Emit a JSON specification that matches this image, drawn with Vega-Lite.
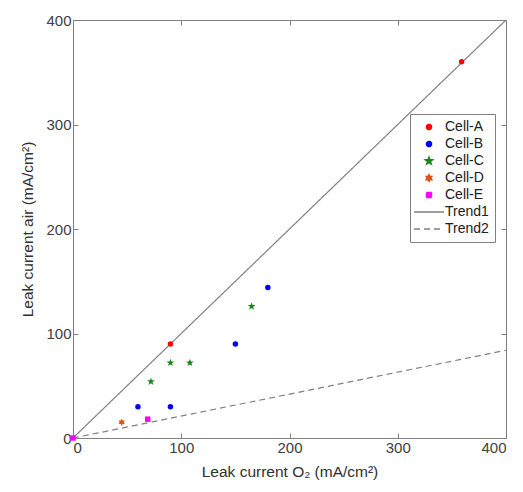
{
  "$schema": "https://vega.github.io/schema/vega-lite/v6.json",
  "autosize": {"type": "none"},
  "padding": {"left": 73, "top": 20, "right": 17, "bottom": 54},
  "width": 433,
  "height": 418,
  "config": {
    "font": "Liberation Sans",
    "view": {"stroke": "#808080", "strokeWidth": 1},
    "axis": {
      "domainColor": "#808080", "tickColor": "#808080", "tickSize": -5,
      "labelColor": "#404040", "labelFontSize": 15, "labelFont": "Liberation Sans",
      "titleColor": "#303030", "titleFontSize": 15.5, "titleFont": "Liberation Sans", "titleFontWeight": "normal",
      "grid": false, "labelPadding": 7
    },
    "legend": {
      "labelFontSize": 14, "labelColor": "#202020", "labelFont": "Liberation Sans"
    }
  },
  "datasets": {
    "cells": [
      {"series": "Cell-A", "x": 90, "y": 90},
      {"series": "Cell-A", "x": 359, "y": 360},
      {"series": "Cell-B", "x": 60, "y": 30},
      {"series": "Cell-B", "x": 90, "y": 30},
      {"series": "Cell-B", "x": 150, "y": 90},
      {"series": "Cell-B", "x": 180, "y": 144},
      {"series": "Cell-C", "x": 72, "y": 54},
      {"series": "Cell-C", "x": 90, "y": 72},
      {"series": "Cell-C", "x": 108, "y": 72},
      {"series": "Cell-C", "x": 165, "y": 126},
      {"series": "Cell-D", "x": 45, "y": 15},
      {"series": "Cell-E", "x": 0, "y": 0},
      {"series": "Cell-E", "x": 69, "y": 18}
    ],
    "trends": [
      {"series": "Trend1", "x": 0, "y": 0},
      {"series": "Trend1", "x": 400, "y": 400},
      {"series": "Trend2", "x": 0, "y": 0},
      {"series": "Trend2", "x": 400, "y": 84}
    ]
  },
  "resolve": {"axis": {"x": "independent", "y": "independent"}},
  "layer": [
    {
      "data": {"name": "trends"},
      "mark": {"type": "line", "strokeWidth": 1.2, "clip": true},
      "encoding": {
        "x": {"field": "x", "type": "quantitative", "scale": {"domain": [0, 400], "nice": false},
              "axis": {"title": "Leak current O₂ (mA/cm²)", "orient": "bottom", "values": [0, 100, 200, 300, 400], "titlePadding": 9}},
        "y": {"field": "y", "type": "quantitative", "scale": {"domain": [0, 400], "nice": false},
              "axis": {"title": "Leak current air (mA/cm²)", "orient": "left", "values": [0, 100, 200, 300, 400], "titlePadding": 10}},
        "color": {"field": "series", "type": "nominal",
          "scale": {"domain": ["Cell-A", "Cell-B", "Cell-C", "Cell-D", "Cell-E", "Trend1", "Trend2"],
                    "range": ["#ff0000", "#0000ff", "#138a13", "#d95319", "#ff00ff", "#808080", "#808080"]},
          "legend": {"title": null, "orient": "none", "legendX": 337, "legendY": 94, "strokeColor": "#808080", "fillColor": "white", "padding": 6, "rowPadding": 3, "symbolSize": 25, "symbolOffset": 6, "labelOffset": 9}},
        "strokeDash": {"field": "series", "type": "nominal",
          "scale": {"domain": ["Cell-A", "Cell-B", "Cell-C", "Cell-D", "Cell-E", "Trend1", "Trend2"],
                    "range": [[1, 0], [1, 0], [1, 0], [1, 0], [1, 0], [1, 0], [6, 4]]},
          "legend": {"title": null, "orient": "none", "legendX": 337, "legendY": 94}}
      }
    },
    {
      "data": {"name": "cells"},
      "mark": {"type": "point", "filled": true, "size": 30, "opacity": 1},
      "encoding": {
        "x": {"field": "x", "type": "quantitative", "axis": {"title": null, "orient": "top", "labels": false, "values": [0, 100, 200, 300, 400], "domain": false}},
        "y": {"field": "y", "type": "quantitative", "axis": {"title": null, "orient": "right", "labels": false, "values": [0, 100, 200, 300, 400], "domain": false}},
        "color": {"field": "series", "type": "nominal"},
        "shape": {"field": "series", "type": "nominal",
          "scale": {"domain": ["Cell-A", "Cell-B", "Cell-C", "Cell-D", "Cell-E", "Trend1", "Trend2"],
                    "range": ["circle", "circle", "M0,-1.5L0.36,-0.5L1.43,-0.46L0.57,0.18L0.88,1.21L0,0.6L-0.88,1.21L-0.57,0.18L-1.43,-0.46L-0.36,-0.5Z", "M0,-1.3L0.38,-0.65L1.13,-0.65L0.75,0L1.13,0.65L0.38,0.65L0,1.3L-0.38,0.65L-1.13,0.65L-0.75,0L-1.13,-0.65L-0.38,-0.65Z", "square", "M-6,0L6,0", "M-6,0L6,0"]},
          "legend": {"title": null, "orient": "none", "legendX": 337, "legendY": 94}}
      }
    }
  ]
}
